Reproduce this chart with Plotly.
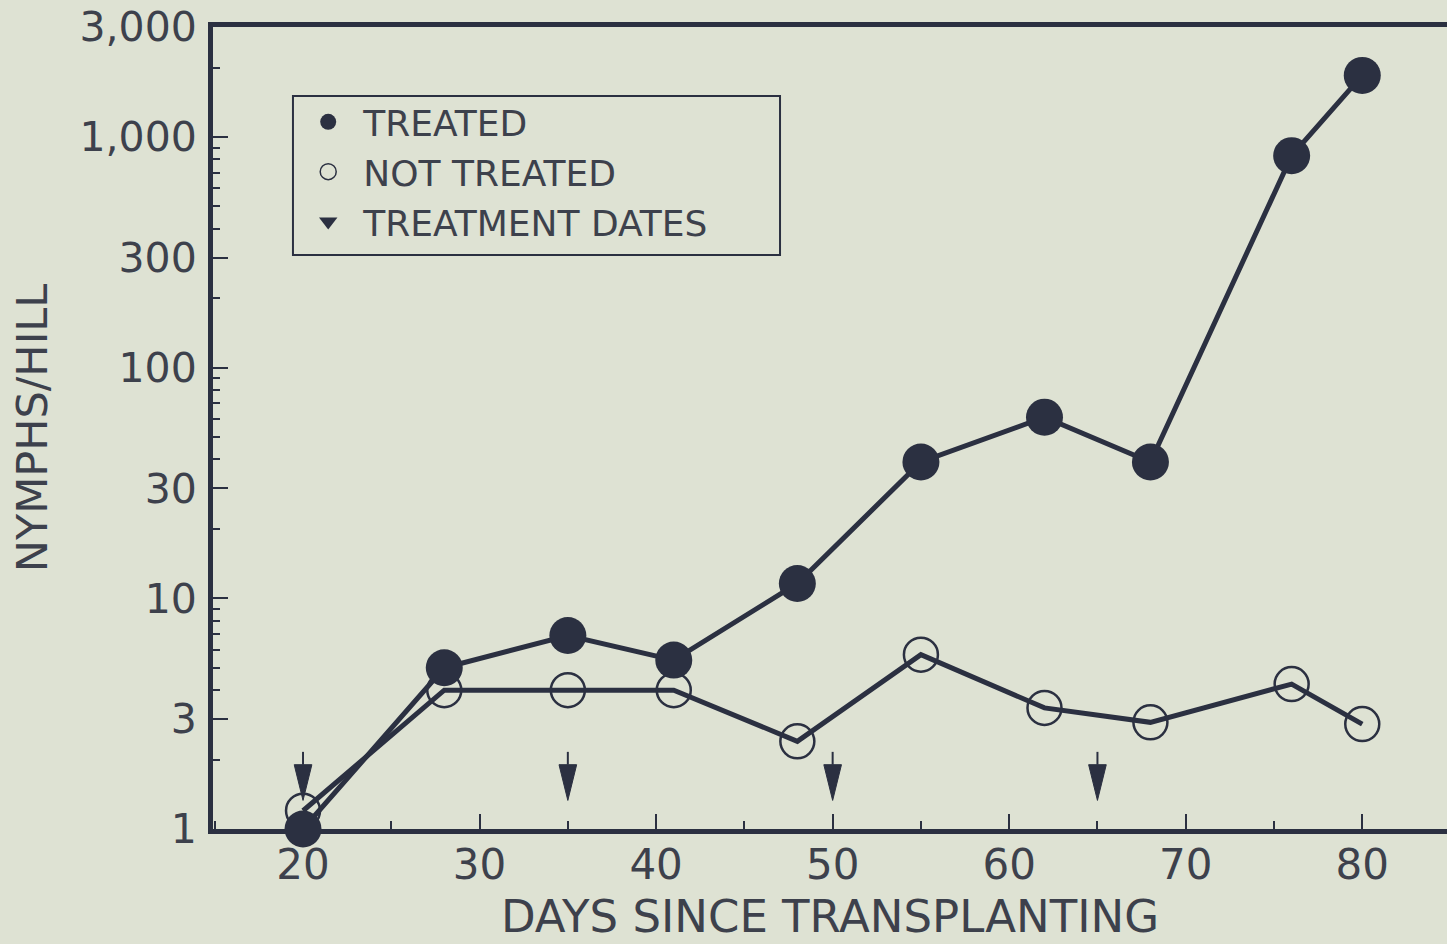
import plotly.graph_objects as go

# ---- data ----
days = [20, 28, 35, 41, 48, 55, 62, 68, 76, 80]
treated = [1.0, 5.0, 6.9, 5.4, 11.6, 39, 61, 39, 830, 1850]
not_treated = [1.2, 4.0, 4.0, 4.0, 2.4, 5.7, 3.35, 2.9, 4.25, 2.85]
treatment_days = [20, 35, 50, 65]

y_tickvals = [1, 3, 10, 30, 100, 300, 1000, 3000]
y_ticktext = ["1", "3", "10", "30", "100", "300", "1,000", "3,000"]
y_minor = [2, 4, 5, 6, 7, 8, 9, 20, 40, 50, 60, 70, 80, 90,
           200, 400, 500, 600, 700, 800, 900, 2000]
x_tickvals = [20, 30, 40, 50, 60, 70, 80]
x_minor = [15, 25, 35, 45, 55, 65, 75]

# ---- style ----
BG = "#dee2d3"
INK = "#2b3041"
TXT = "#3d414c"
FONT = "DejaVu Sans"

# arrow geometry (style constants, in axis units)
ARROW_TIP = 1.33
ARROW_BASE = 1.9
ARROW_STEM_TOP = 2.16
ARROW_HALF_W = 0.5

fig = go.Figure()

fig.add_trace(go.Scatter(
    x=days, y=not_treated, mode="lines+markers", showlegend=False,
    line=dict(color=INK, width=5),
    marker=dict(symbol="circle-open", size=34, color=INK, line=dict(width=2.5)),
    cliponaxis=False,
))
fig.add_trace(go.Scatter(
    x=days, y=treated, mode="lines+markers", showlegend=False,
    line=dict(color=INK, width=5),
    marker=dict(symbol="circle", size=37, color=INK),
    cliponaxis=False,
))

# treatment date arrows
tri_x, tri_y, stem_x, stem_y = [], [], [], []
for d in treatment_days:
    tri_x += [d - ARROW_HALF_W, d + ARROW_HALF_W, d, d - ARROW_HALF_W, None]
    tri_y += [ARROW_BASE, ARROW_BASE, ARROW_TIP, ARROW_BASE, None]
    stem_x += [d, d, None]
    stem_y += [ARROW_BASE, ARROW_STEM_TOP, None]
fig.add_trace(go.Scatter(x=tri_x, y=tri_y, mode="lines", fill="toself",
                         fillcolor=INK, line=dict(color=INK, width=1),
                         showlegend=False, hoverinfo="skip"))
fig.add_trace(go.Scatter(x=stem_x, y=stem_y, mode="lines",
                         line=dict(color=INK, width=2),
                         showlegend=False, hoverinfo="skip"))

# legend entries
fig.add_trace(go.Scatter(x=[None], y=[None], mode="markers", name="TREATED",
                         marker=dict(symbol="circle", size=16, color=INK)))
fig.add_trace(go.Scatter(x=[None], y=[None], mode="markers", name="NOT TREATED",
                         marker=dict(symbol="circle-open", size=16, color=INK,
                                     line=dict(width=1.5))))
fig.add_trace(go.Scatter(x=[None], y=[None], mode="markers", name="TREATMENT DATES",
                         marker=dict(symbol="triangle-down", size=16, color=INK)))

# legend frame (paper coordinates)
fig.add_shape(type="rect", xref="paper", yref="paper",
              x0=0.0648, x1=0.4595, y0=0.7157, y1=0.914,
              line=dict(color=INK, width=2), fillcolor="rgba(0,0,0,0)", layer="above")

fig.update_layout(
    width=1447, height=944, autosize=False,
    margin=dict(l=213, r=0, t=27, b=115),
    paper_bgcolor=BG, plot_bgcolor=BG,
    font=dict(family=FONT, color=TXT, size=36),
    legend=dict(x=0.065, y=0.919, xanchor="left", yanchor="top",
                bgcolor="rgba(0,0,0,0)", borderwidth=0,
                font=dict(size=36, color=TXT), itemsizing="trace",
                itemwidth=60),
    xaxis=dict(
        range=[14.9, 84.8], showgrid=False, zeroline=False,
        showline=True, linecolor=INK, linewidth=5, mirror=True,
        tickvals=x_tickvals, ticks="inside", ticklen=15, tickwidth=2,
        tickcolor=INK, tickfont=dict(size=42, color=TXT),
        ticklabelstandoff=-5,
        minor=dict(tickvals=x_minor, ticks="inside", ticklen=8,
                   tickwidth=2, tickcolor=INK),
        title=dict(text="DAYS SINCE TRANSPLANTING", font=dict(size=45, color=TXT),
                   standoff=14),
    ),
    yaxis=dict(
        type="log", range=[0, 3.4771], showgrid=False, zeroline=False,
        showline=True, linecolor=INK, linewidth=5,
        tickvals=y_tickvals, ticktext=y_ticktext,
        ticks="inside", ticklen=15, tickwidth=2, tickcolor=INK,
        tickfont=dict(size=41, color=TXT), ticklabelstandoff=3,
        minor=dict(tickvals=y_minor, ticks="inside", ticklen=7,
                   tickwidth=2, tickcolor=INK),
        title=dict(text="NYMPHS/HILL", font=dict(size=43, color=TXT),
                   standoff=20),
    ),
)

fig.write_html("out.html")
